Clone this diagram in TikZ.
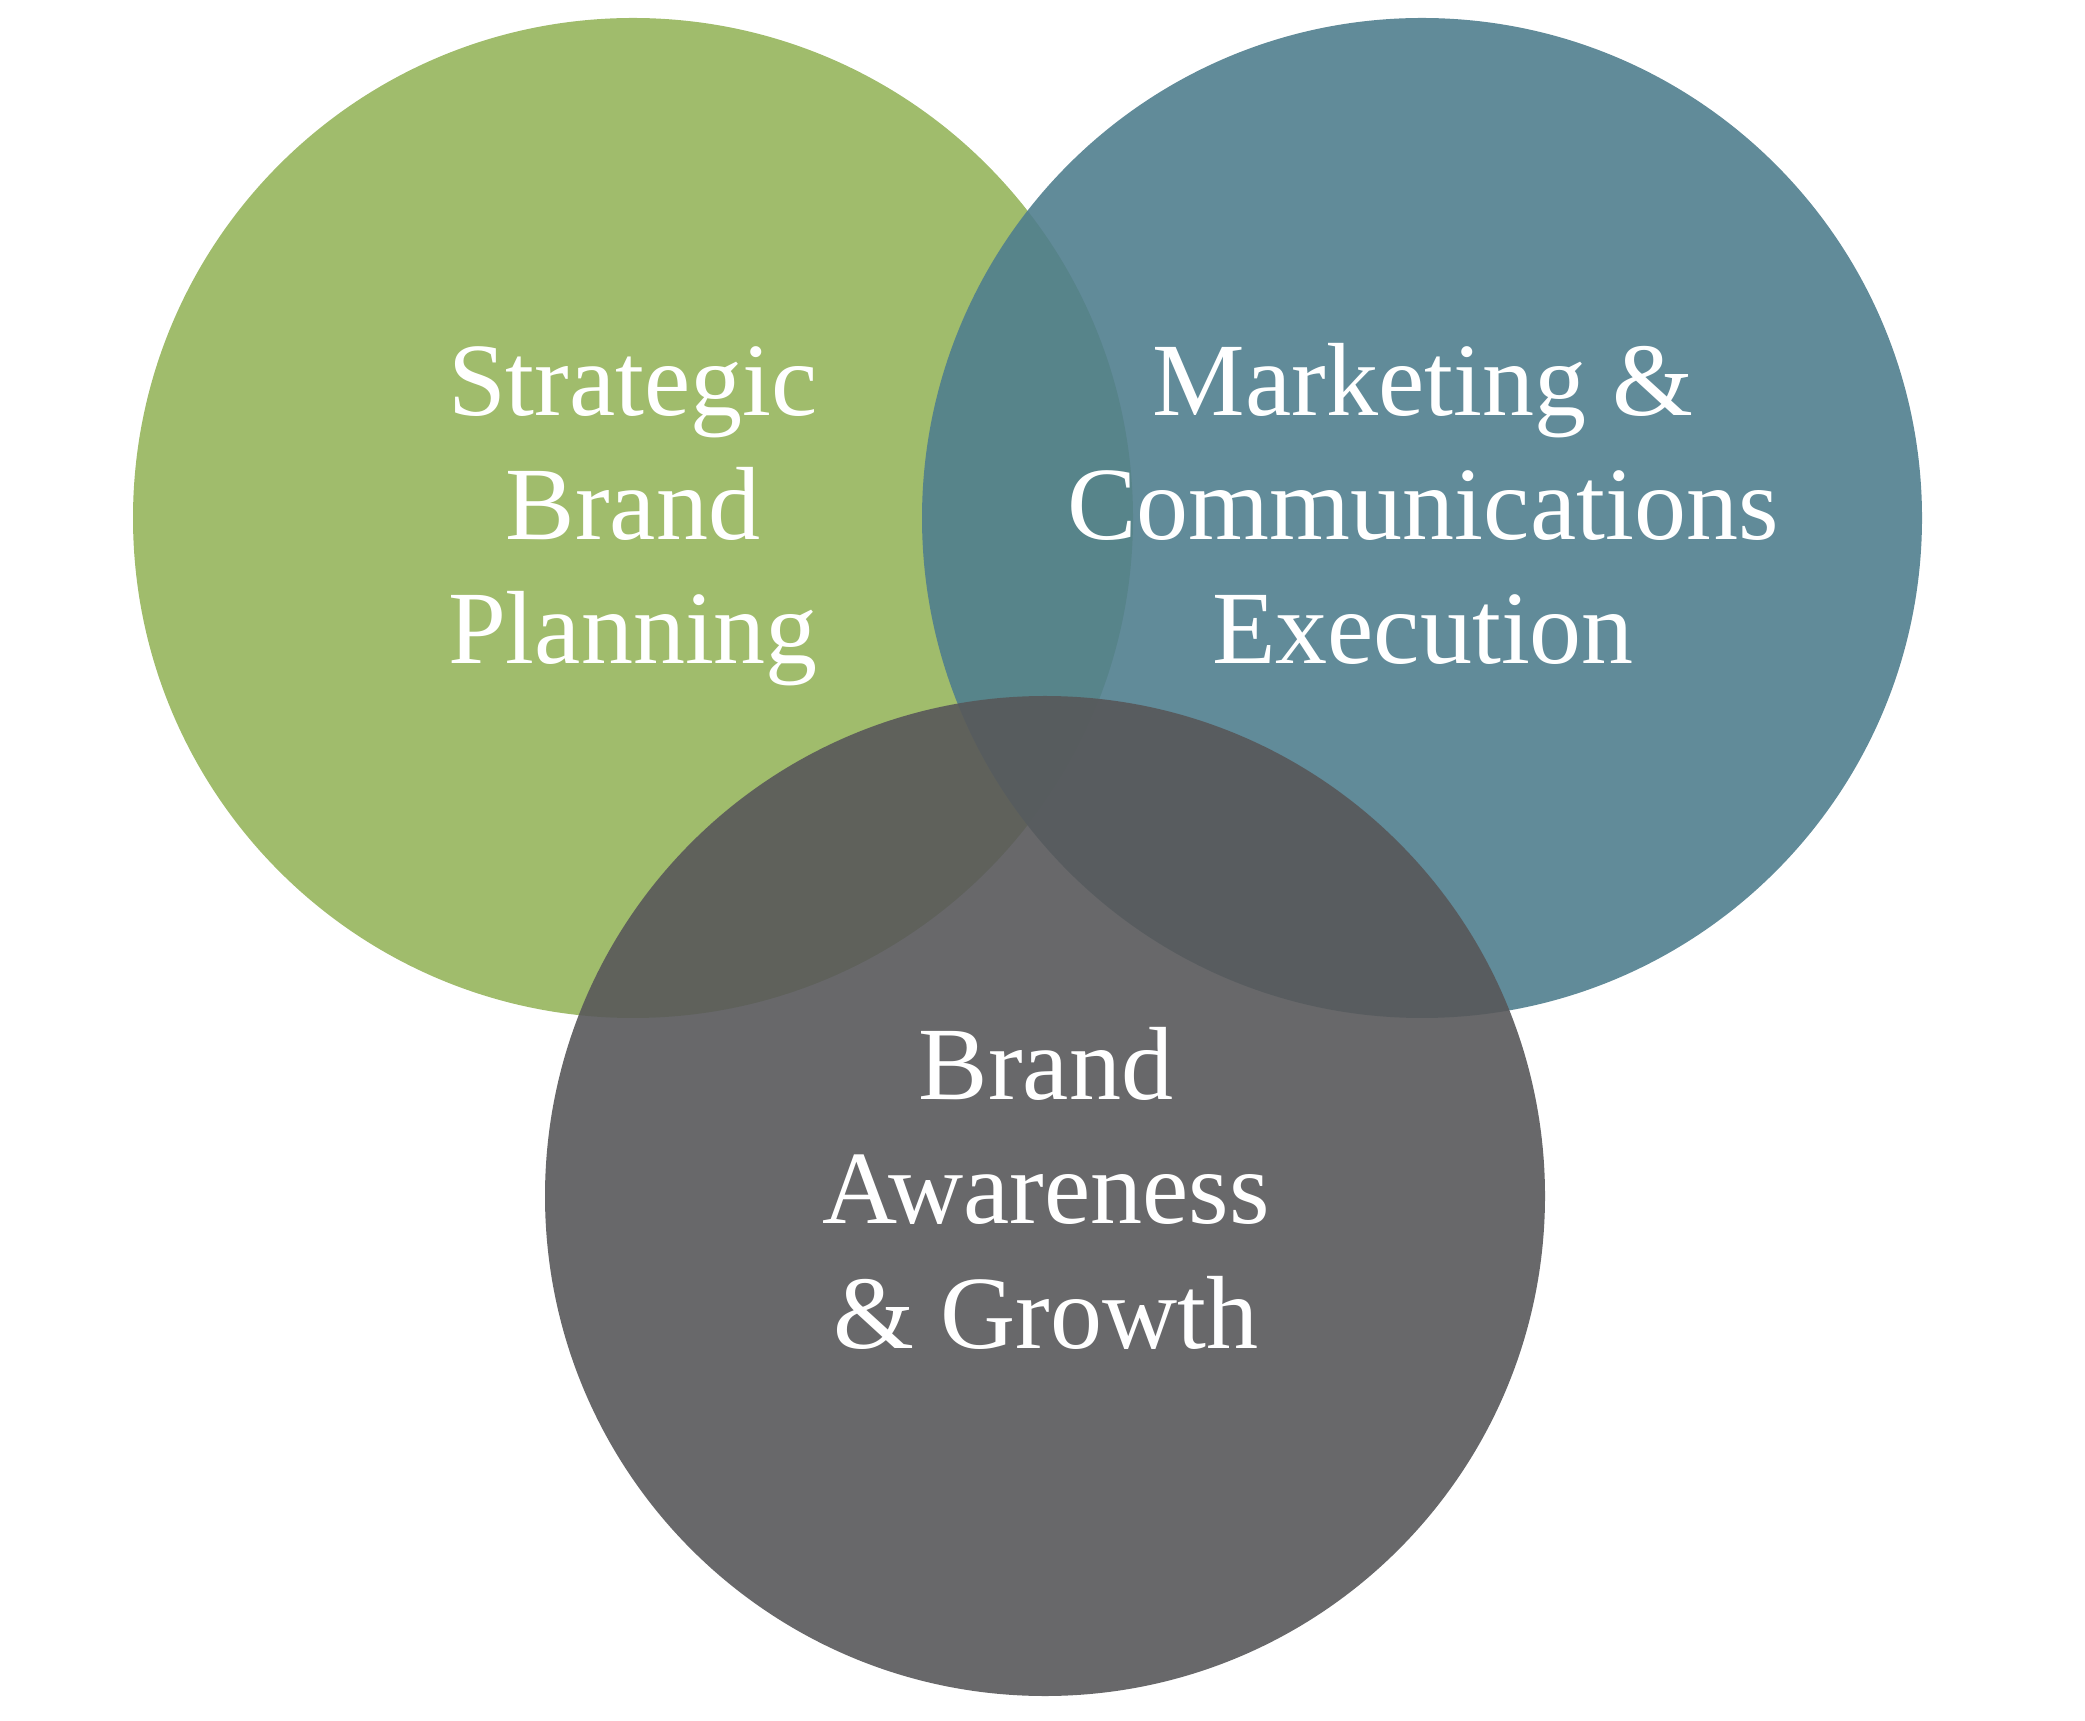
\documentclass[tikz,border=0pt]{standalone}
\usepackage{fontspec}
\setmainfont{Liberation Serif}
\usepackage{tikz}
\usetikzlibrary{positioning}
\definecolor{planGreen}{RGB}{160,188,108}
\definecolor{execBlue}{RGB}{80,126,142}
\definecolor{growGray}{RGB}{88,88,90}

\begin{document}
\begin{tikzpicture}[
			C/.style={fill opacity=0.9},
			L/.style={text=white,align=center,anchor=base,inner sep=0pt,font=\fontsize{29.6}{35.3}\selectfont},
			]

			%frame
			\useasboundingbox (0,0) rectangle (20.85,17.20);

			%circles
			\fill[planGreen] (6.33,12.02) circle (5.00);
			\fill[execBlue,C] (14.22,12.02) circle (5.00);
			\fill[growGray,C] (10.45,5.24) circle (5.00);

			%labels
			\node[L] (Planning) at (6.33,10.56) {Strategic\\Brand\\Planning};
			\node[L] (Execution) at (14.23,10.56) {Marketing \&\\Communications\\Execution};
			\node[L] (Growth) at (10.46,3.72) {Brand\\Awareness\\\& Growth};

	\end{tikzpicture}
\end{document}
